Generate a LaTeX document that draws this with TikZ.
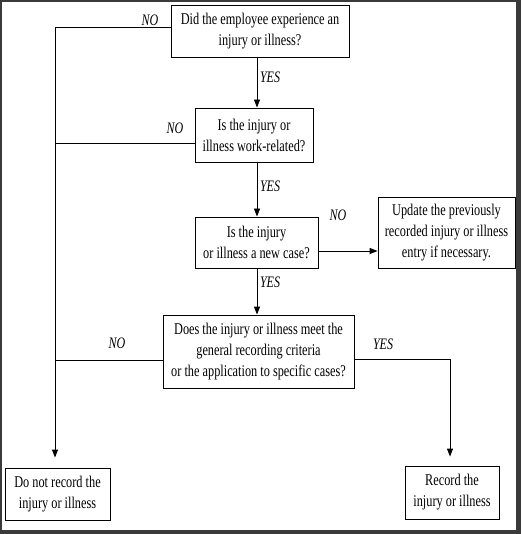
\documentclass[tikz,border=0pt]{standalone}
\usepackage{fontspec}
\setmainfont{Liberation Serif}
\newfontfamily\cond[FakeStretch=0.75]{Liberation Serif}
\usetikzlibrary{arrows.meta,calc}
\definecolor{framegray}{HTML}{3A3A3A}
\begin{document}
\begin{tikzpicture}[x=1pt,y=-1pt,
  every node/.style={font=\cond\fontsize{16.4}{21}\selectfont},
  box/.style={draw=black,line width=0.9pt,align=center,inner sep=0pt,fill=white},
  lbl/.style={font=\cond\itshape\fontsize{16}{18}\selectfont,inner sep=0pt},
  conn/.style={line width=0.9pt},
  arr/.style={conn,-{Triangle[length=8pt,width=6pt]}}]
\fill[framegray] (0,0) rectangle (521,534);
\fill[white] (2,2) rectangle (516,530);
\useasboundingbox (0,0) rectangle (521,534);
\node[box,minimum width=178pt,minimum height=52pt] (q1) at (260,31)
  {Did the employee experience an\\injury or illness?};
\node[box,minimum width=118pt,minimum height=54pt] (q2) at (254,135)
  {Is the injury or\\illness work-related?};
\node[box,minimum width=123pt,minimum height=51pt] (q3) at (256.5,242.5)
  {Is the injury\\or illness a new case?};
\node[box,minimum width=137pt,minimum height=71pt] (upd) at (446.5,233)
  {Update the previously\\recorded injury or illness\\entry if necessary.};
\node[box,minimum width=191pt,minimum height=73pt] (q4) at (258.5,351.5)
  {Does the injury or illness meet the\\general recording criteria\\or the application to specific cases?};
\node[box,minimum width=105pt,minimum height=52pt] (norec) at (57.5,494)
  {Do not record the\\injury or illness};
\node[box,minimum width=94pt,minimum height=53pt] (rec) at (452,492.5)
  {Record the\\injury or illness};
\coordinate (spine) at (257,0);
\coordinate (leftx) at (55,0);
% vertical YES arrows
\draw[arr] (q1.south -| spine) -- (q2.north -| spine);
\draw[arr] (q2.south -| spine) -- (q3.north -| spine);
\draw[arr] (q3.south -| spine) -- (q4.north -| spine);
% NO to the left
\draw[arr,shorten >=10pt] ([yshift=4pt]q1.west) -| ([xshift=-2.5pt]norec.north);
\draw[conn] ([yshift=-8pt]q2.west) -- ([yshift=-8pt]q2.west -| leftx);
\draw[conn] ([yshift=-8.5pt]q4.west) -- ([yshift=-8.5pt]q4.west -| leftx);
% NO to update
\draw[arr] ([yshift=-8.5pt]q3.east) -- ([yshift=-8.5pt]q3.east -| upd.west);
% YES to record
\draw[arr,shorten >=9pt] ([yshift=-7.5pt]q4.east) -| ([xshift=-2pt]rec.north);
% labels
\node[lbl] (no1) at (150,20) {NO};
\node[lbl] (yes1) at (270,77) {YES};
\node[lbl] (no2) at (175,128) {NO};
\node[lbl] (yes2) at (270,186) {YES};
\node[lbl] (no3) at (338,215) {NO};
\node[lbl] (yes3) at (270,282) {YES};
\node[lbl] (no4) at (117,343) {NO};
\node[lbl] (yes4) at (383,344) {YES};
\end{tikzpicture}
\end{document}
